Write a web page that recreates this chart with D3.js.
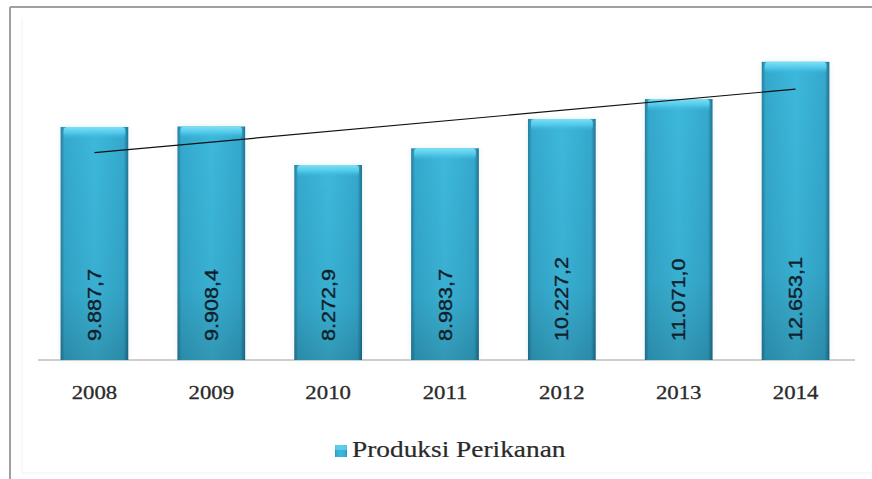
<!DOCTYPE html>
<html><head><meta charset="utf-8">
<script src="https://cdn.jsdelivr.net/npm/d3@7"></script>
<style>body{margin:0;background:#fff}svg{display:block}</style>
</head><body>
<script>
const categories = ["2008","2009","2010","2011","2012","2013","2014"];
const values = [9887.7, 9908.4, 8272.9, 8983.7, 10227.2, 11071.0, 12653.1];
const valueLabels = ["9.887,7","9.908,4","8.272,9","8.983,7","10.227,2","11.071,0","12.653,1"];
const seriesName = "Produksi Perikanan";

const SERIF = '"Liberation Serif"';
const SANS = '"Liberation Sans"';
const W = 872, H = 479;
const svg = d3.select("body").append("svg").attr("width", W).attr("height", H);
const defs = svg.append("defs");

const hg = defs.append("linearGradient").attr("id","hg").attr("x1","0").attr("x2","1").attr("y1","0").attr("y2","0");
[[0,"#237f9f"],[0.06,"#34a9cd"],[0.5,"#3cb8dc"],[0.93,"#34a9cd"],[1,"#1f7393"]].forEach(([o,c])=>hg.append("stop").attr("offset",o).attr("stop-color",c));
const vg = defs.append("linearGradient").attr("id","vg").attr("x1","0").attr("x2","0").attr("y1","0").attr("y2","1");
[[0,"#000",0],[0.7,"#000",0.05],[1,"#000",0.18]].forEach(([o,c,a])=>vg.append("stop").attr("offset",o).attr("stop-color",c).attr("stop-opacity",a));
const tg = defs.append("linearGradient").attr("id","tg").attr("x1","0").attr("x2","0").attr("y1","0").attr("y2","1");
[[0,"#7fe0f6",1],[0.5,"#55ccec",0.9],[1,"#3cb8dc",0]].forEach(([o,c,a])=>tg.append("stop").attr("offset",o).attr("stop-color",c).attr("stop-opacity",a));
const sh = defs.append("filter").attr("id","sh").attr("x","-20%").attr("y","-20%").attr("width","140%").attr("height","140%");
sh.append("feGaussianBlur").attr("in","SourceAlpha").attr("stdDeviation",3).attr("result","b");
sh.append("feFlood").attr("flood-color","#cfe3ea").attr("flood-opacity",0.5);
sh.append("feComposite").attr("in2","b").attr("operator","in").attr("result","s");
const m = sh.append("feMerge"); m.append("feMergeNode").attr("in","s"); m.append("feMergeNode").attr("in","SourceGraphic");

// frame
svg.append("path").attr("d","M22,18V473H872").attr("fill","none").attr("stroke","#f2f2f2");
svg.append("line").attr("x1",10).attr("x2",10).attr("y1",7).attr("y2",H).attr("stroke","#a0a0a0").attr("stroke-width",2);
svg.append("line").attr("x1",10).attr("x2",W).attr("y1",7).attr("y2",7).attr("stroke","#a0a0a0").attr("stroke-width",2);

const x = d3.scaleBand().domain(categories).range([36,854]).paddingInner(0.42).paddingOuter(0.21);
const y = d3.scaleLinear().domain([0,14000]).range([360,30]);

// axis
const ax = svg.append("g").attr("transform","translate(0,360)").call(d3.axisBottom(x).tickSize(0).tickPadding(0));
ax.select(".domain").attr("stroke","#bdbdbd").attr("stroke-width",1.5).attr("d","M38,0H855");
ax.selectAll(".tick text").remove();
categories.forEach(c=>{
  svg.append("text").attr("transform",`translate(${x(c)+x.bandwidth()/2},399) scale(1.2,1)`)
    .style("font-family",SERIF).attr("text-anchor","middle").attr("font-size",19)
    .attr("fill","#2a2a2a").attr("stroke","#2a2a2a").attr("stroke-width",0.3).text(c);
});

// bars
const g = svg.append("g");
const bars = g.selectAll("g.bar").data(values).join("g").attr("class","bar").attr("filter","url(#sh)");
bars.append("rect").attr("x",(d,i)=>x(categories[i])).attr("y",d=>y(d)).attr("width",x.bandwidth()).attr("height",d=>y(0)-y(d)).attr("fill","url(#hg)");
bars.append("rect").attr("x",(d,i)=>x(categories[i])).attr("y",d=>y(d)).attr("width",x.bandwidth()).attr("height",d=>y(0)-y(d)).attr("fill","url(#vg)");
bars.append("rect").attr("x",(d,i)=>x(categories[i])+3).attr("y",d=>y(d)).attr("width",x.bandwidth()-6).attr("height",12).attr("rx",4).attr("fill","url(#tg)");

// labels
g.selectAll("text.v").data(values).join("text").attr("class","v")
  .attr("transform",(d,i)=>`translate(${x(categories[i])+x.bandwidth()/2+6.5},341) rotate(-90) scale(1.2,1)`)
  .style("font-family",SANS).attr("font-size",18).attr("fill","#10202b").attr("stroke","#10202b").attr("stroke-width",0.35)
  .text((d,i)=>valueLabels[i]);

// linear trend line (least squares)
const n = values.length, xm = (n-1)/2, ym = d3.mean(values);
const slope = d3.sum(values,(v,i)=>(i-xm)*(v-ym))/d3.sum(values,(v,i)=>(i-xm)*(i-xm));
const trend = i => ym + slope*(i-xm);
svg.append("line")
  .attr("x1",x(categories[0])+x.bandwidth()/2).attr("y1",y(trend(0)))
  .attr("x2",x(categories[n-1])+x.bandwidth()/2).attr("y2",y(trend(n-1)))
  .attr("stroke","#111").attr("stroke-width",1.2);

// legend
const lg = svg.append("g");
lg.append("rect").attr("x",335).attr("y",445).attr("width",12).attr("height",12).attr("fill","url(#hg)");
lg.append("rect").attr("x",335).attr("y",445).attr("width",12).attr("height",5).attr("fill","#6fd6f2").attr("opacity",0.7);
lg.append("text").attr("transform","translate(352,457) scale(1.19,1)")
  .style("font-family",SERIF).attr("font-size",23).attr("fill","#2a2a2a").attr("stroke","#2a2a2a").attr("stroke-width",0.2)
  .text(seriesName);
</script>
</body></html>
